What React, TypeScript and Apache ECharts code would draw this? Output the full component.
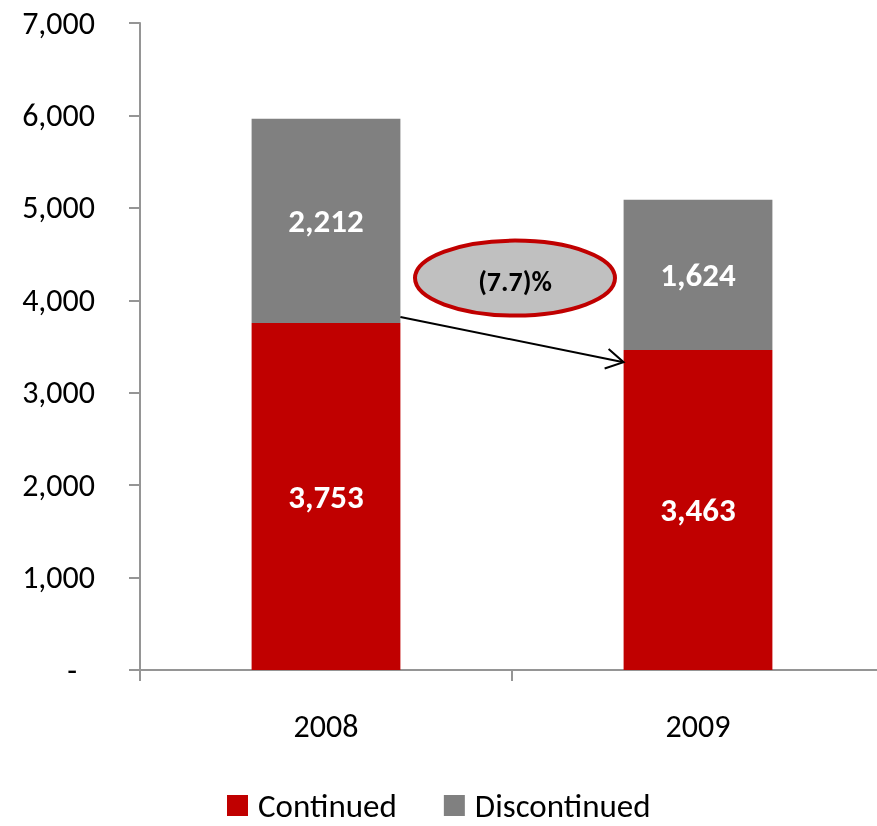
import React, { useEffect, useRef } from 'react';
import * as echarts from 'echarts';

const categories = ['2008', '2009'];
const continued = [3753, 3463];
const discontinued = [2212, 1624];
const seriesNames = ['Continued', 'Discontinued'];
const yMin = 0;
const yMax = 7000;
const yInterval = 1000;
const changeLabel = '(7.7)%';
// annotation anchor values (data space)
const arrowFromValue = 3820;
const arrowToValue = 3330;
const bubbleValue = 4240;

const RED = '#C00000';
const GRAY = '#808080';
const AXIS = '#959595';
const FONT = 'Carlito, Lato, sans-serif';

export default function App() {
  const ref = useRef<HTMLDivElement>(null);
  useEffect(() => {
    const chart = echarts.init(ref.current!, null, { renderer: 'svg' });
    const fmt = (v: number) => v.toLocaleString('en-US');
    chart.setOption({
      animation: false,
      textStyle: { fontFamily: FONT },
      grid: { left: 140, top: 23, width: 744, height: 647, containLabel: false },
      legend: {
        data: seriesNames,
        top: 784,
        left: 222,
        icon: 'rect',
        itemWidth: 21,
        itemHeight: 21,
        itemGap: 47,
        textStyle: { fontSize: 33, lineHeight: 32, color: '#000', fontFamily: FONT, padding: [0, 0, 0, 5] },
      },
      xAxis: {
        type: 'category',
        data: categories,
        axisLine: { lineStyle: { color: AXIS, width: 2 } },
        axisTick: { show: true, length: 11, lineStyle: { color: AXIS, width: 2 } },
        axisLabel: { fontSize: 32, color: '#000', margin: 40, fontFamily: FONT },
      },
      yAxis: {
        type: 'value',
        min: yMin,
        max: yMax,
        interval: yInterval,
        splitLine: { show: false },
        axisLine: { show: true, lineStyle: { color: AXIS, width: 2 } },
        axisTick: { show: true, length: 11, lineStyle: { color: AXIS, width: 2 } },
        axisLabel: {
          fontSize: 32,
          color: '#000',
          margin: 45,
          fontFamily: FONT,
          formatter: (v: number) => (v === 0 ? '{d|-}' : fmt(v)),
          rich: { d: { fontSize: 32, color: '#000', fontFamily: FONT, padding: [0, 18, 0, 0] } },
        },
      },
      series: [
        {
          name: seriesNames[0],
          type: 'bar',
          stack: 'total',
          data: continued,
          barWidth: '40%',
          itemStyle: { color: RED },
          label: {
            show: true,
            position: 'inside',
            color: '#fff',
            fontWeight: 'bold',
            fontSize: 33,
            fontFamily: FONT,
            formatter: (p: any) => fmt(p.value),
          },
        },
        {
          name: seriesNames[1],
          type: 'bar',
          stack: 'total',
          data: discontinued,
          barWidth: '40%',
          itemStyle: { color: GRAY },
          label: {
            show: true,
            position: 'inside',
            color: '#fff',
            fontWeight: 'bold',
            fontSize: 33,
            fontFamily: FONT,
            formatter: (p: any) => fmt(p.value),
          },
        },
      ],
    });

    const finder = { xAxisIndex: 0, yAxisIndex: 0 };
    const c0 = chart.convertToPixel(finder, [0, arrowFromValue]) as number[];
    const c1 = chart.convertToPixel(finder, [1, arrowToValue]) as number[];
    const band = c1[0] - c0[0];
    const half = band * 0.2;
    const sx = c0[0] + half;
    const sy = c0[1];
    const ex = c1[0] - half;
    const ey = c1[1];
    const ang = Math.atan2(ey - sy, ex - sx);
    const wl = 20;
    const wa = (30 * Math.PI) / 180;
    const w1 = [ex - wl * Math.cos(ang - wa), ey - wl * Math.sin(ang - wa)];
    const w2 = [ex - wl * Math.cos(ang + wa), ey - wl * Math.sin(ang + wa)];
    const bx = (c0[0] + c1[0]) / 2 + 3;
    const by = (chart.convertToPixel(finder, [0, bubbleValue]) as number[])[1];

    chart.setOption({
      graphic: [
        {
          type: 'line',
          shape: { x1: sx, y1: sy, x2: ex, y2: ey },
          style: { stroke: '#000', lineWidth: 2 },
          z: 100,
        },
        {
          type: 'polyline',
          shape: { points: [w1, [ex, ey], w2] },
          style: { stroke: '#000', lineWidth: 2, fill: null },
          z: 100,
        },
        {
          type: 'ellipse',
          shape: { cx: bx, cy: by, rx: 100, ry: 37.5 },
          style: { fill: '#C0C0C0', stroke: RED, lineWidth: 4 },
          z: 100,
        },
        {
          type: 'text',
          x: bx,
          y: by + 3,
          style: {
            text: changeLabel,
            x: 0,
            y: 0,
            align: 'center',
            verticalAlign: 'middle',
            fontSize: 28,
            fontWeight: 'bold',
            fontFamily: FONT,
            fill: '#000',
          },
          z: 101,
        },
      ],
    });
    return () => chart.dispose();
  }, []);
  return (
    <div style={{ position: 'fixed', left: 0, top: 0, width: 877, height: 826, overflow: 'hidden' }}>
      <div ref={ref} style={{ width: 900, height: 826 }} />
    </div>
  );
}
